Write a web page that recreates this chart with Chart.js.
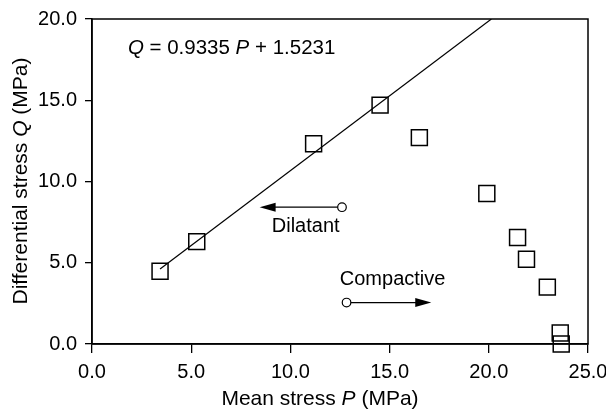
<!DOCTYPE html>
<html><head><meta charset="utf-8">
<script src="https://cdn.jsdelivr.net/npm/chart.js@4.4.1/dist/chart.umd.min.js"></script>
<style>html,body{margin:0;padding:0;background:#fff}#wrap{width:606px;height:412px}</style>
</head><body><div id="wrap"><canvas id="c" width="606" height="412"></canvas></div>
<script>
// ---- data ----
const meanStressP = [3.43, 5.28, 11.17, 14.52, 16.5, 19.9, 21.45, 21.9, 22.95, 23.6, 23.65];
const diffStressQ = [4.48, 6.3, 12.33, 14.7, 12.7, 9.26, 6.56, 5.21, 3.5, 0.67, 0.0];
const fitLineP = [3.43, 20.13];
const fitLineQ = [4.62, 20.0];
const xTicks = [0, 5, 10, 15, 20, 25];
const yTicks = [0, 5, 10, 15, 20];
const dilatantArrowP = [12.6, 8.45];
const dilatantArrowQ = [8.42, 8.42];
const compactiveArrowP = [12.83, 17.1];
const compactiveArrowQ = [2.55, 2.55];
const labelTexts = ['Dilatant', 'Compactive'];
const labelP = [10.77, 15.15];
const labelQ = [7.24, 3.97];
const equationParts = [['Q', true], [' = 0.9335 ', false], ['P', true], [' + 1.5231', false]];
const equationAt = [1.81, 18.2];
const xTitleParts = [['Mean stress ', false], ['P', true], [' (MPa)', false]];
const yTitleParts = [['Differential stress ', false], ['Q', true], [' (MPa)', false]];

const FONT = '"Liberation Sans", Arial, Helvetica, sans-serif';

function drawParts(ctx, parts, x, y, size, align) {
  let total = 0;
  const widths = parts.map(([t, it]) => {
    ctx.font = (it ? 'italic ' : '') + size + 'px ' + FONT;
    const w = ctx.measureText(t).width; total += w; return w;
  });
  let cx = align === 'center' ? x - total / 2 : x;
  parts.forEach(([t, it], i) => {
    ctx.font = (it ? 'italic ' : '') + size + 'px ' + FONT;
    ctx.textAlign = 'left';
    ctx.fillText(t, cx, y);
    cx += widths[i];
  });
}

const annotate = {
  id: 'annotate',
  afterDatasetsDraw(chart) {
    const ctx = chart.ctx, xs = chart.scales.x, ys = chart.scales.y;
    const a = chart.chartArea;
    ctx.save();
    // box
    ctx.strokeStyle = '#000'; ctx.lineWidth = 1.5;
    ctx.strokeRect(a.left, a.top, a.right - a.left, a.bottom - a.top);
    ctx.fillStyle = '#000';
    ctx.textBaseline = 'middle';
    // arrows
    [[dilatantArrowP, dilatantArrowQ], [compactiveArrowP, compactiveArrowQ]].forEach(([P, Q]) => {
      const x0 = xs.getPixelForValue(P[0]), y0 = ys.getPixelForValue(Q[0]);
      const x1 = xs.getPixelForValue(P[1]), y1 = ys.getPixelForValue(Q[1]);
      const dir = Math.sign(x1 - x0);
      ctx.strokeStyle = '#000'; ctx.lineWidth = 1.2;
      ctx.beginPath(); ctx.moveTo(x0, y0); ctx.lineTo(x1 - dir * 10, y1); ctx.stroke();
      ctx.beginPath();
      ctx.moveTo(x1, y1);
      ctx.lineTo(x1 - dir * 16, y1 - 4.5);
      ctx.lineTo(x1 - dir * 16, y1 + 4.5);
      ctx.closePath(); ctx.fill();
      ctx.beginPath(); ctx.arc(x0, y0, 4.3, 0, Math.PI * 2);
      ctx.fillStyle = '#fff'; ctx.fill(); ctx.lineWidth = 1.2; ctx.stroke();
      ctx.fillStyle = '#000';
    });
    // labels
    ctx.font = '20px ' + FONT; ctx.textAlign = 'center';
    labelTexts.forEach((t, i) => ctx.fillText(t, xs.getPixelForValue(labelP[i]), ys.getPixelForValue(labelQ[i])));
    // equation
    drawParts(ctx, equationParts, xs.getPixelForValue(equationAt[0]), ys.getPixelForValue(equationAt[1]), 20.5, 'left');
    // axis titles
    drawParts(ctx, xTitleParts, 320, 399, 21, 'center');
    ctx.translate(21.5, 181); ctx.rotate(-Math.PI / 2);
    drawParts(ctx, yTitleParts, 0, 0, 21, 'center');
    ctx.restore();
  }
};

const tickFont = { family: FONT, size: 20 };
new Chart(document.getElementById('c'), {
  type: 'scatter',
  data: {
    datasets: [
      {
        label: 'data',
        data: meanStressP.map((p, i) => ({ x: p, y: diffStressQ[i] })),
        pointStyle: 'rect', pointRadius: 11.3, pointHoverRadius: 11.3,
        borderColor: '#000', backgroundColor: 'rgba(0,0,0,0)', borderWidth: 1.5,
        clip: false
      },
      {
        type: 'line', label: 'fit',
        data: fitLineP.map((p, i) => ({ x: p, y: fitLineQ[i] })),
        borderColor: '#000', borderWidth: 1.2, pointRadius: 0, fill: false, tension: 0
      }
    ]
  },
  options: {
    responsive: false, animation: false, devicePixelRatio: 1, events: [],
    layout: { padding: { top: 19, right: 18, left: 0, bottom: 0 } },
    plugins: { legend: { display: false }, tooltip: { enabled: false } },
    scales: {
      x: {
        type: 'linear', min: 0, max: 25,
        afterBuildTicks: s => { s.ticks = xTicks.map(v => ({ value: v })); },
        afterFit: s => { s.height = 68; s.paddingRight = 0; s.paddingLeft = 0; },
        ticks: { font: tickFont, color: '#000', padding: 7, maxRotation: 0, callback: v => Number(v).toFixed(1) },
        grid: { drawOnChartArea: false, drawTicks: true, tickLength: 9, color: '#000', lineWidth: 1.3 },
        border: { display: true, color: '#000', width: 1.5 }
      },
      y: {
        type: 'linear', min: 0, max: 20,
        afterBuildTicks: s => { s.ticks = yTicks.map(v => ({ value: v })); },
        afterFit: s => { s.width = 92; s.paddingTop = 0; s.paddingBottom = 0; },
        ticks: { font: tickFont, color: '#000', padding: 8, callback: v => Number(v).toFixed(1) },
        grid: { drawOnChartArea: false, drawTicks: true, tickLength: 7, color: '#000', lineWidth: 1.3 },
        border: { display: true, color: '#000', width: 1.5 }
      }
    }
  },
  plugins: [annotate]
});
</script>
</body></html>
